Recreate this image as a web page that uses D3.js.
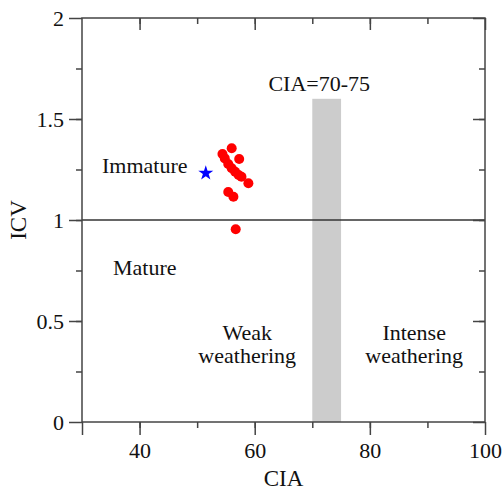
<!DOCTYPE html>
<html>
<head>
<meta charset="utf-8">
<script src="https://cdn.jsdelivr.net/npm/d3@7"></script>
<style>
body { margin: 0; background: #fff; }
text { font-family: "Liberation Serif", "Times New Roman", serif; }
</style>
</head>
<body>
<svg id="chart"></svg>
<script>
// sample points (red circles)
var sampleCIA = [56.0, 54.4, 54.8, 57.3, 55.4, 56.0, 56.6, 57.2, 57.7, 58.9, 55.4, 56.3, 56.7];
var sampleICV = [1.355, 1.327, 1.305, 1.302, 1.277, 1.256, 1.239, 1.223, 1.214, 1.182, 1.139, 1.115, 0.954];
// reference point (blue star)
var starCIA = [51.5];
var starICV = [1.232];
var xTicks = [40, 60, 80, 100];
var yTicks = [0, 0.5, 1, 1.5, 2];
var band = { from: 70, to: 75, top: 1.6 };

var svgWidth = 502, svgHeight = 493;
var margin = { top: 18, right: 17, bottom: 71, left: 82 };
var width = svgWidth - margin.left - margin.right;
var height = svgHeight - margin.top - margin.bottom;

var svg = d3.select("#chart")
	.attr("width", svgWidth)
	.attr("height", svgHeight);

var g = svg.append("g")
	.attr("transform", "translate(" + margin.left + "," + margin.top + ")");

var x = d3.scaleLinear().domain([30, 100]).range([0, width]);
var y = d3.scaleLinear().domain([0, 2]).range([height, 0]);

var axisColor = "#444";

// grey band CIA=70-75
g.append("rect")
	.attr("x", x(band.from))
	.attr("y", y(band.top))
	.attr("width", x(band.to) - x(band.from))
	.attr("height", y(0) - y(band.top))
	.attr("fill", "#cccccc");

// ICV = 1 line
g.append("line")
	.attr("x1", 0).attr("x2", width)
	.attr("y1", y(1)).attr("y2", y(1))
	.attr("stroke", "#333").attr("stroke-width", 1.5);

// frame
g.append("rect")
	.attr("width", width).attr("height", height)
	.attr("fill", "none").attr("stroke", axisColor).attr("stroke-width", 1.5);

var xMinor = d3.range(40, 100, 10);
var yMinor = d3.range(0.25, 2, 0.25);

function styleAxis(sel) {
	sel.select(".domain").remove();
	sel.selectAll("line").attr("stroke", axisColor).attr("stroke-width", 1.5);
	sel.selectAll("text").attr("font-size", "22px").attr("fill", "#111");
}

// bottom
g.append("g").attr("transform", "translate(0," + height + ")")
	.call(d3.axisBottom(x).tickValues(xMinor).tickSize(6).tickFormat(""))
	.call(styleAxis);
g.append("g").attr("transform", "translate(0," + height + ")")
	.call(d3.axisBottom(x).tickValues([30].concat(xTicks)).tickSize(13).tickPadding(7)
		.tickFormat(function(d) { return d == 30 ? "" : d; }))
	.call(styleAxis);
// left
g.append("g")
	.call(d3.axisLeft(y).tickValues(yMinor).tickSize(6).tickFormat(""))
	.call(styleAxis);
g.append("g")
	.call(d3.axisLeft(y).tickValues(yTicks).tickSize(13).tickPadding(5)
		.tickFormat(function(d) { return d; }))
	.call(styleAxis);
// top, inward
g.append("g")
	.call(d3.axisTop(x).tickValues(xMinor).tickSize(-6).tickFormat(""))
	.call(styleAxis);
g.append("g")
	.call(d3.axisTop(x).tickValues(xTicks).tickSize(-12).tickFormat(""))
	.call(styleAxis);
// right, inward
g.append("g").attr("transform", "translate(" + width + ",0)")
	.call(d3.axisRight(y).tickValues(yMinor).tickSize(-6).tickFormat(""))
	.call(styleAxis);
g.append("g").attr("transform", "translate(" + width + ",0)")
	.call(d3.axisRight(y).tickValues(yTicks).tickSize(-12).tickFormat(""))
	.call(styleAxis);

// axis titles
svg.append("text")
	.attr("x", margin.left + x(65)).attr("y", 486)
	.attr("text-anchor", "middle").attr("font-size", "23px").attr("fill", "#111")
	.text("CIA");
svg.append("text")
	.attr("transform", "translate(26," + (margin.top + y(1)) + ") rotate(-90)")
	.attr("text-anchor", "middle").attr("font-size", "23px").attr("fill", "#111")
	.text("ICV");

// region labels
var labels = [
	{ t: "Immature", cx: 40.9, cy: 1.235 },
	{ t: "Mature", cx: 40.9, cy: 0.73 },
	{ t: "Weak", cx: 58.7, cy: 0.406 },
	{ t: "weathering", cx: 58.7, cy: 0.29 },
	{ t: "Intense", cx: 87.7, cy: 0.406 },
	{ t: "weathering", cx: 87.7, cy: 0.29 },
	{ t: "CIA=70-75", cx: 71.2, cy: 1.64 }
];
g.selectAll(".lbl").data(labels).enter().append("text")
	.attr("class", "lbl")
	.attr("x", function(d) { return x(d.cx); })
	.attr("y", function(d) { return y(d.cy); })
	.attr("text-anchor", "middle")
	.attr("font-size", "22px").attr("fill", "#111")
	.text(function(d) { return d.t; });

// points
g.selectAll(".pt").data(sampleCIA).enter().append("circle")
	.attr("class", "pt")
	.attr("cx", function(d) { return x(d); })
	.attr("cy", function(d, i) { return y(sampleICV[i]); })
	.attr("r", 5)
	.attr("fill", "#ff0000");

g.selectAll(".star").data(starCIA).enter().append("path")
	.attr("class", "star")
	.attr("transform", function(d, i) { return "translate(" + x(d) + "," + y(starICV[i]) + ")"; })
	.attr("d", d3.symbol().type(d3.symbolStar).size(70))
	.attr("fill", "#0000ff");
</script>
</body>
</html>
